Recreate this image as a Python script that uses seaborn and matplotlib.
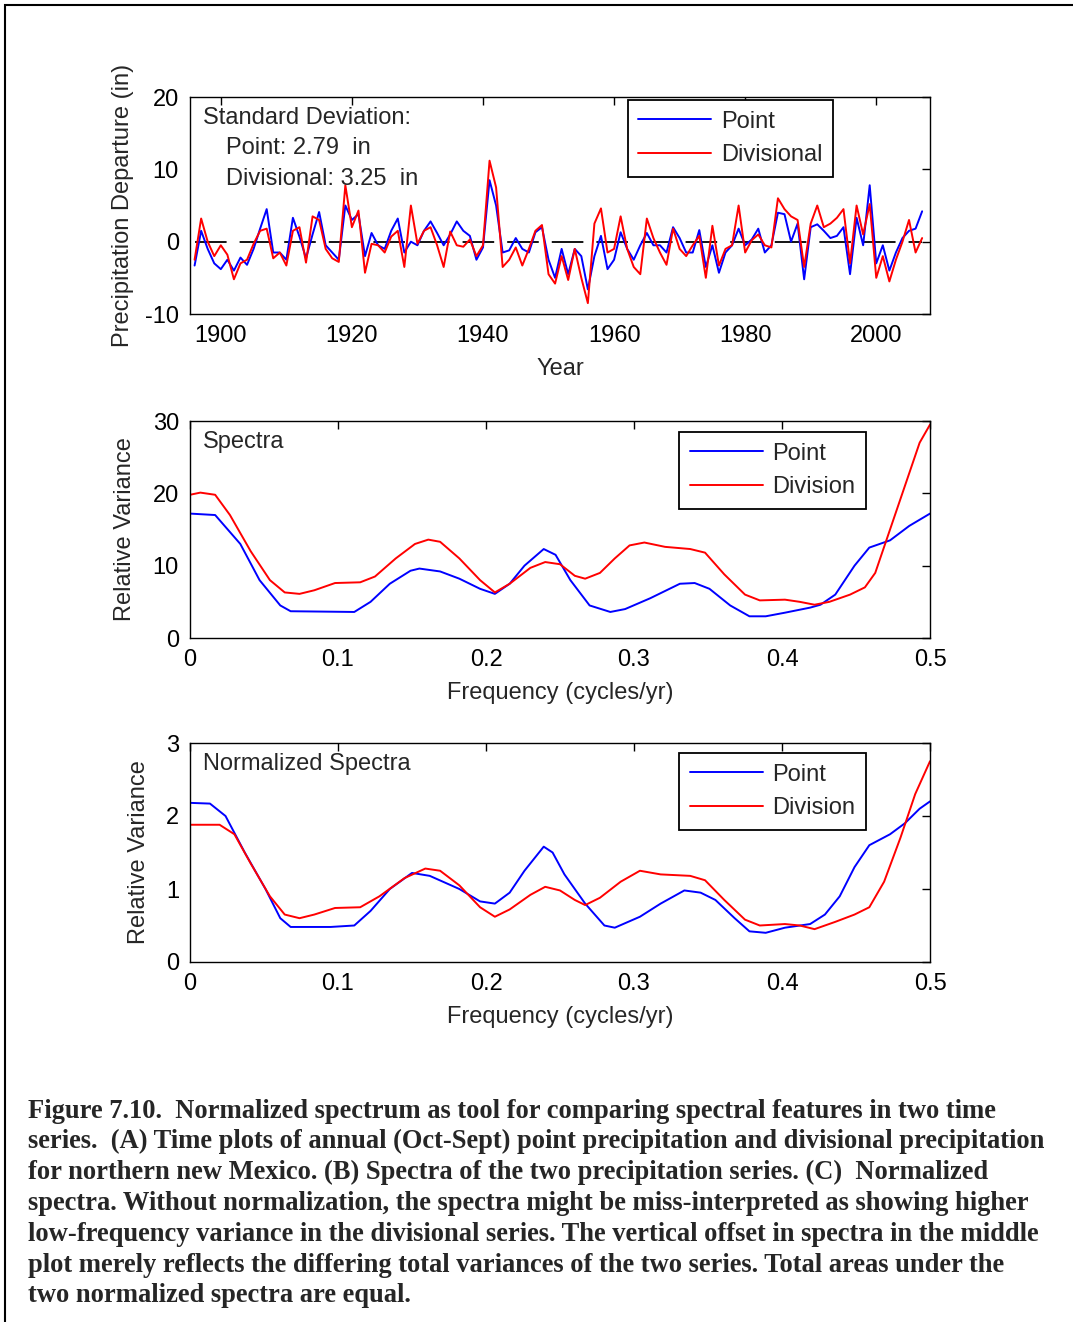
import matplotlib
matplotlib.use("Agg")
import matplotlib.pyplot as plt
import seaborn as sns
import numpy as np
from matplotlib.patches import Rectangle

# --- data ---
years = np.arange(1896, 2008)
point_dep = [-3.3, 1.5, -1.0, -3.0, -3.8, -2.5, -4.0, -2.2, -3.2, -1.0,
             1.8, 4.5, -1.5, -1.5, -2.5, 3.3, 0.7, -2.3, 1.0, 4.1,
             -0.5, -1.5, -2.5, 5.0, 3.0, 3.8, -2.0, 1.2, -0.5, -1.0,
             1.5, 3.2, -1.5, 0.0, -0.5, 1.5, 2.8, 1.2, -0.5, 1.0,
             2.8, 1.5, 0.8, -2.5, -0.8, 8.5, 5.0, -1.5, -1.2, 0.5,
             -1.0, -1.5, 1.3, 2.0, -2.5, -5.0, -1.0, -4.5, -1.0, -2.0,
             -6.6, -2.0, 0.8, -3.8, -2.5, 1.3, -1.0, -2.5, -0.5, 1.2,
             -0.5, -0.5, -1.5, 2.0, 0.5, -1.5, -1.5, 1.6, -3.5, -0.5,
             -4.3, -1.5, -0.5, 1.8, -0.5, 0.3, 1.8, -1.5, -0.5, 4.0,
             3.8, 0.0, 2.5, -5.2, 2.0, 2.4, 1.5, 0.5, 0.8, 2.0,
             -4.5, 3.3, -0.5, 7.8, -3.0, -0.5, -4.0, -1.5, 0.5, 1.5,
             1.8, 4.2]
div_dep = [-2.5, 3.2, 0.0, -2.0, -0.5, -1.8, -5.2, -3.0, -2.5, -0.3,
           1.5, 1.8, -2.3, -1.5, -3.3, 1.5, 2.0, -2.9, 3.5, 3.0,
           -1.0, -2.3, -2.8, 7.8, 2.0, 4.3, -4.3, -0.3, -0.5, -1.5,
           0.7, 1.5, -3.5, 5.0, -0.3, 1.5, 2.0, -0.5, -3.5, 1.4,
           -0.5, -0.7, 0.3, -2.0, -0.5, 11.2, 7.5, -3.5, -2.5, -0.8,
           -3.3, -1.0, 1.5, 2.3, -4.5, -5.8, -2.0, -5.3, -1.0, -5.0,
           -8.5, 2.5, 4.6, -1.5, -1.0, 3.5, -1.0, -3.5, -4.5, 3.2,
           0.5, -1.5, -3.2, 1.8, -1.0, -2.0, -0.5, 0.8, -5.0, 2.2,
           -3.3, -1.0, -0.5, 5.0, -1.5, 0.2, 1.0, -0.5, -0.8, 6.0,
           4.5, 3.5, 3.0, -3.5, 2.5, 5.0, 2.0, 2.5, 3.3, 4.5,
           -3.0, 5.0, 1.0, 5.2, -5.0, -2.0, -5.5, -2.5, 0.0, 3.0,
           -1.5, 0.5]

# spectra (B)
freq_pt = [0, 0.017, 0.034, 0.047, 0.061, 0.068, 0.111, 0.122, 0.135, 0.149, 0.155, 0.169,
           0.182, 0.196, 0.206, 0.216, 0.226, 0.239, 0.247, 0.257, 0.270, 0.284, 0.294,
           0.311, 0.331, 0.341, 0.351, 0.365, 0.378, 0.389, 0.402, 0.419, 0.426, 0.436,
           0.449, 0.459, 0.473, 0.486, 0.5]
spec_pt = [17.2, 17.0, 13.0, 8.0, 4.5, 3.7, 3.6, 5.0, 7.5, 9.3, 9.6, 9.2,
           8.2, 6.8, 6.1, 7.5, 10.0, 12.3, 11.5, 8.0, 4.5, 3.6, 4.0,
           5.5, 7.5, 7.6, 6.8, 4.5, 3.0, 3.0, 3.5, 4.2, 4.6, 6.0,
           10.0, 12.5, 13.5, 15.5, 17.2]
freq_dv = [0, 0.007, 0.017, 0.027, 0.041, 0.054, 0.064, 0.074, 0.084, 0.098, 0.115, 0.125,
           0.139, 0.152, 0.161, 0.169, 0.182, 0.196, 0.206, 0.216, 0.230, 0.240, 0.250,
           0.260, 0.267, 0.277, 0.287, 0.297, 0.307, 0.321, 0.338, 0.348, 0.361, 0.375,
           0.385, 0.402, 0.412, 0.422, 0.432, 0.446, 0.456, 0.463, 0.473, 0.483, 0.493, 0.5]
spec_dv = [19.8, 20.1, 19.8, 17.0, 12.0, 8.0, 6.3, 6.1, 6.6, 7.6, 7.7, 8.5,
           11.0, 13.0, 13.6, 13.3, 11.0, 8.0, 6.3, 7.5, 9.7, 10.5, 10.2,
           8.6, 8.2, 9.0, 11.0, 12.8, 13.2, 12.6, 12.3, 11.8, 8.8, 6.0,
           5.2, 5.3, 5.0, 4.6, 5.0, 6.0, 7.0, 9.0, 15.0, 21.0, 27.0, 29.5]

# normalized spectra (C)
freq_npt = [0, 0.0135, 0.024, 0.037, 0.051, 0.061, 0.068, 0.095, 0.111, 0.122, 0.135, 0.15,
            0.162, 0.182, 0.196, 0.206, 0.216, 0.226, 0.239, 0.245, 0.253, 0.267, 0.280,
            0.287, 0.304, 0.318, 0.334, 0.345, 0.355, 0.368, 0.378, 0.389, 0.402, 0.419,
            0.429, 0.439, 0.449, 0.459, 0.473, 0.483, 0.493, 0.5]
nspec_pt = [2.18, 2.17, 2.0, 1.5, 1.0, 0.6, 0.48, 0.48, 0.5, 0.7, 1.0, 1.22,
            1.18, 1.0, 0.83, 0.8, 0.95, 1.25, 1.58, 1.5, 1.2, 0.8, 0.5,
            0.47, 0.62, 0.8, 0.98, 0.95, 0.85, 0.6, 0.42, 0.4, 0.47, 0.52,
            0.65, 0.9, 1.3, 1.6, 1.75, 1.9, 2.1, 2.2]
freq_ndv = [0, 0.02, 0.03, 0.041, 0.054, 0.064, 0.074, 0.084, 0.098, 0.115, 0.128, 0.145,
            0.159, 0.169, 0.182, 0.196, 0.206, 0.216, 0.230, 0.240, 0.250, 0.260, 0.267,
            0.277, 0.291, 0.304, 0.318, 0.338, 0.348, 0.361, 0.375, 0.385, 0.402, 0.412,
            0.422, 0.436, 0.449, 0.459, 0.469, 0.480, 0.490, 0.5]
nspec_dv = [1.88, 1.88, 1.75, 1.35, 0.9, 0.65, 0.6, 0.65, 0.74, 0.75, 0.9, 1.15,
            1.28, 1.25, 1.05, 0.75, 0.62, 0.72, 0.92, 1.03, 0.98, 0.85, 0.78,
            0.88, 1.1, 1.25, 1.2, 1.18, 1.12, 0.85, 0.58, 0.5, 0.52, 0.5,
            0.45, 0.55, 0.65, 0.75, 1.1, 1.7, 2.3, 2.75]

caption_lines = [
    "Figure 7.10.  Normalized spectrum as tool for comparing spectral features in two time",
    "series.  (A) Time plots of annual (Oct-Sept) point precipitation and divisional precipitation",
    "for northern new Mexico. (B) Spectra of the two precipitation series. (C)  Normalized",
    "spectra. Without normalization, the spectra might be miss-interpreted as showing higher",
    "low-frequency variance in the divisional series. The vertical offset in spectra in the middle",
    "plot merely reflects the differing total variances of the two series. Total areas under the",
    "two normalized spectra are equal.",
]

sns.set_style("white")
plt.rcParams['font.family'] = ['Liberation Sans', 'DejaVu Sans']
plt.rcParams['axes.unicode_minus'] = False
FS = 17
W, H = 1073, 1322
fig = plt.figure(figsize=(W / 100, H / 100), dpi=100)


def px_axes(left, top, right, bottom):
    return fig.add_axes([left / W, 1 - bottom / H, (right - left) / W, (bottom - top) / H])


def style(ax):
    for s in ax.spines.values():
        s.set_visible(True)
        s.set_color('black')
        s.set_linewidth(1.0)
    ax.tick_params(direction='in', top=True, right=True, length=6, width=1,
                   labelsize=FS, pad=8, colors='black')


def legend(ax, labels, anchor):
    handles = ax.get_lines()[:2]
    leg = ax.legend(handles, labels, loc='upper right', bbox_to_anchor=anchor,
                    fontsize=FS, frameon=True, fancybox=False, edgecolor='black',
                    framealpha=1, handlelength=3.1, borderpad=0.45, labelspacing=0.5,
                    handletextpad=0.4, borderaxespad=0.0)
    leg.get_frame().set_linewidth(1.3)


# (A) time series
ax1 = px_axes(190, 97, 930, 314)
sns.lineplot(x=years, y=point_dep, color='blue', lw=1.4, ax=ax1, label='Point')
sns.lineplot(x=years, y=div_dep, color='red', lw=1.4, ax=ax1, label='Divisional')
ax1.plot([years[0], years[-1]], [0, 0], color='black', lw=1.3, dashes=(17.5, 7.2), zorder=0)
ax1.set_xlim(1895.3, 2008.2)
ax1.set_ylim(-10, 20)
ax1.set_xticks([1900, 1920, 1940, 1960, 1980, 2000])
ax1.set_yticks([-10, 0, 10, 20])
ax1.set_xlabel('Year', fontsize=FS, labelpad=8)
ax1.set_ylabel('Precipitation Departure (in)', fontsize=FS, labelpad=8)
ax1.text(0.018, 0.955, 'Standard Deviation:', transform=ax1.transAxes, fontsize=FS, va='top')
ax1.text(0.048, 0.815, 'Point: 2.79  in', transform=ax1.transAxes, fontsize=FS, va='top')
ax1.text(0.048, 0.675, 'Divisional: 3.25  in', transform=ax1.transAxes, fontsize=FS, va='top')
style(ax1)
legend(ax1, ['Point', 'Divisional'], ((833 - 190) / 740, 1 - 3 / 217))

# (B) spectra
ax2 = px_axes(190, 421, 930, 638)
sns.lineplot(x=freq_pt, y=spec_pt, color='blue', lw=1.4, ax=ax2, label='Point')
sns.lineplot(x=freq_dv, y=spec_dv, color='red', lw=1.4, ax=ax2, label='Division')
ax2.set_xlim(0, 0.5)
ax2.set_ylim(0, 30)
ax2.set_xticks([0, 0.1, 0.2, 0.3, 0.4, 0.5])
ax2.set_xticklabels(['0', '0.1', '0.2', '0.3', '0.4', '0.5'])
ax2.set_yticks([0, 10, 20, 30])
ax2.set_xlabel('Frequency (cycles/yr)', fontsize=FS, labelpad=8)
ax2.set_ylabel('Relative Variance', fontsize=FS, labelpad=12)
ax2.text(0.018, 0.955, 'Spectra', transform=ax2.transAxes, fontsize=FS, va='top')
style(ax2)
legend(ax2, ['Point', 'Division'], ((866 - 190) / 740, 1 - 11 / 217))

# (C) normalized spectra
ax3 = px_axes(190, 743, 930, 962)
sns.lineplot(x=freq_npt, y=nspec_pt, color='blue', lw=1.4, ax=ax3, label='Point')
sns.lineplot(x=freq_ndv, y=nspec_dv, color='red', lw=1.4, ax=ax3, label='Division')
ax3.set_xlim(0, 0.5)
ax3.set_ylim(0, 3)
ax3.set_xticks([0, 0.1, 0.2, 0.3, 0.4, 0.5])
ax3.set_xticklabels(['0', '0.1', '0.2', '0.3', '0.4', '0.5'])
ax3.set_yticks([0, 1, 2, 3])
ax3.set_xlabel('Frequency (cycles/yr)', fontsize=FS, labelpad=8)
ax3.set_ylabel('Relative Variance', fontsize=FS, labelpad=11)
ax3.text(0.018, 0.955, 'Normalized Spectra', transform=ax3.transAxes, fontsize=FS, va='top')
style(ax3)
legend(ax3, ['Point', 'Division'], ((866 - 190) / 740, 1 - 10 / 219))

# caption
for i, line in enumerate(caption_lines):
    fig.text(28 / W, 1 - (1111 + 30.8 * i) / H, line, fontsize=19.1, fontweight='bold',
             family=['Liberation Serif', 'DejaVu Serif'], va='center', ha='left')

# outer frame
fig.add_artist(Rectangle((5 / W, -0.01), 1.1, 1 - 5 / H + 0.01, transform=fig.transFigure,
                         fill=False, edgecolor='black', lw=1.5))

fig.savefig('out.png', dpi=100)
plt.close()
